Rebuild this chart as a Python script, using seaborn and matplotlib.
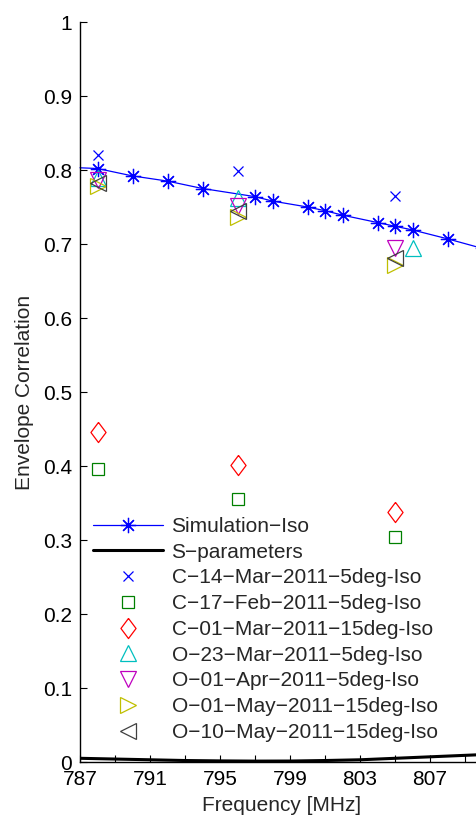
import numpy as np
import matplotlib
matplotlib.use("Agg")
import matplotlib.pyplot as plt
import seaborn as sns

# Simulation (blue line with asterisks)
sim_freq = [787, 788, 790, 792, 794, 797, 798, 800, 801, 802, 804, 805, 806, 808, 810]
sim_corr = [0.803, 0.802, 0.792, 0.785, 0.775, 0.764, 0.758, 0.750, 0.745, 0.739, 0.729, 0.724, 0.719, 0.707, 0.694]

# S-parameter based correlation (thick black line near zero)
spar_freq = [787, 789, 791, 793, 795, 797, 799, 801, 803, 805, 807, 809, 810]
spar_corr = [0.005, 0.004, 0.003, 0.002, 0.0015, 0.0012, 0.0013, 0.002, 0.003, 0.005, 0.007, 0.009, 0.010]

# Measurements
meas_freq = [788, 796, 805]
c14mar = [0.820, 0.799, 0.765]
c17feb = [0.396, 0.355, 0.304]
c01mar = [0.446, 0.401, 0.338]
o23mar_freq = [788, 796, 806]
o23mar = [0.789, 0.762, 0.695]
o01apr = [0.786, 0.751, 0.695]
o01may = [0.778, 0.736, 0.672]
o10may = [0.782, 0.744, 0.681]

M = "\u2212"
labels = ["Simulation" + M + "Iso", "S" + M + "parameters",
          "C" + M + "14" + M + "Mar" + M + "2011" + M + "5deg-Iso",
          "C" + M + "17" + M + "Feb" + M + "2011" + M + "5deg-Iso",
          "C" + M + "01" + M + "Mar" + M + "2011" + M + "15deg-Iso",
          "O" + M + "23" + M + "Mar" + M + "2011" + M + "5deg-Iso",
          "O" + M + "01" + M + "Apr" + M + "2011" + M + "5deg-Iso",
          "O" + M + "01" + M + "May" + M + "2011" + M + "15deg-Iso",
          "O" + M + "10" + M + "May" + M + "2011" + M + "15deg-Iso"]

sns.set_style("ticks")
plt.rcParams['font.family'] = ['Liberation Sans', 'DejaVu Sans']
FS = 15

fig = plt.figure(figsize=(4.76, 8.16), dpi=100)
ax = fig.add_axes([80 / 476, 54 / 816, 402.5 / 476, 740 / 816])

sns.lineplot(x=sim_freq, y=sim_corr, ax=ax, color="b", lw=0.9,
             marker=(8, 2, 0), markersize=11, markeredgecolor="b", markeredgewidth=0.9,
             markevery=list(range(1, len(sim_freq))), label=labels[0], clip_on=False)
sns.lineplot(x=spar_freq, y=spar_corr, ax=ax, color="k", lw=2.2, label=labels[1])

diamond = [(0, 1), (0.75, 0), (0, -1), (-0.75, 0), (0, 1)]
series = [
    (meas_freq, c14mar, "x", 7.5, (0, 0, 1)),
    (meas_freq, c17feb, "s", 8.5, (0, 0.5, 0)),
    (meas_freq, c01mar, diamond, 14.5, (1, 0, 0)),
    (o23mar_freq, o23mar, "^", 12, (0, 0.75, 0.75)),
    (meas_freq, o01apr, "v", 12, (0.75, 0, 0.75)),
    (meas_freq, o01may, ">", 12, (0.75, 0.75, 0)),
    (meas_freq, o10may, "<", 12, (0.25, 0.25, 0.25)),
]
for (fx, fy, mk, ms, col), lab in zip(series, labels[2:]):
    sns.lineplot(x=fx, y=fy, ax=ax, linestyle="", marker=mk, markersize=ms,
                 color=col, markeredgecolor=col, markerfacecolor="none",
                 markeredgewidth=0.9, label=lab)

ax.set_xlim(787, 810)
ax.set_ylim(0, 1)
xt = list(range(787, 811, 2))
ax.set_xticks(xt)
ax.set_xticklabels([str(t) if (t - 787) % 4 == 0 else "" for t in xt])
yt = np.round(np.arange(0, 1.01, 0.1), 1)
ax.set_yticks(yt)
ax.set_yticklabels(["0" if v == 0 else ("1" if v == 1 else f"{v:.1f}") for v in yt])
ax.tick_params(direction="in", length=5, width=0.8, labelsize=FS, colors="k")
ax.tick_params(axis="y", pad=5.5)
ax.tick_params(axis="x", pad=5.5)
sns.despine(ax=ax)
for s in ["left", "bottom"]:
    ax.spines[s].set_linewidth(1.0)
    ax.spines[s].set_color("k")

ax.set_xlabel("Frequency [MHz]", fontsize=FS, labelpad=5)
ax.set_ylabel("Envelope Correlation", fontsize=FS, labelpad=7)

ax.legend(loc="lower left", bbox_to_anchor=(93 / 476, 74 / 816), bbox_transform=fig.transFigure,
          frameon=False, fontsize=FS, handlelength=3.37, handletextpad=0.4,
          labelspacing=0.325, borderpad=0, borderaxespad=0, numpoints=1)

fig.savefig("out.png", dpi=100)
